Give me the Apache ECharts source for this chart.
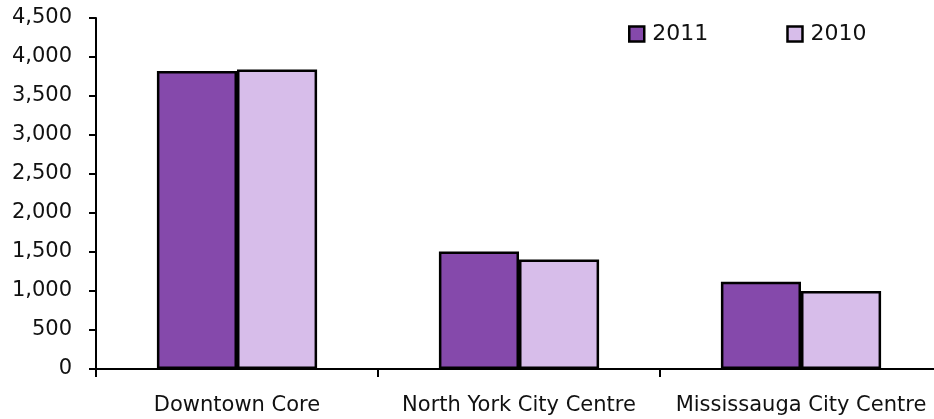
<!DOCTYPE html>
<html>
<head>
<meta charset="utf-8">
<script src="https://cdn.jsdelivr.net/npm/echarts@6/dist/echarts.min.js"></script>
<style>
  html, body { margin: 0; padding: 0; background: #fff; overflow: hidden; }
  /* the plot runs past the right edge in the original, so the canvas is a bit wider than the window */
  #vis { width: 942px; height: 419px; }
</style>
</head>
<body>
<div id="vis"></div>
<script>
const categories = ['Downtown Core', 'North York City Centre', 'Mississauga City Centre'];
const values2011 = [3820, 1505, 1120];
const values2010 = [3840, 1405, 1000];
const yTicks = [0, 500, 1000, 1500, 2000, 2500, 3000, 3500, 4000, 4500];

const font = 'DejaVu Sans';

const chart = echarts.init(document.getElementById('vis'), null, {renderer: 'canvas'});

const options = {
  animation: false,
  textStyle: {fontFamily: font},
  grid: {left: 96, right: 0, top: 18, bottom: 50},
  legend: {
    data: ['2011', '2010'],
    top: 23,
    left: 628,
    padding: 0,
    itemWidth: 15,
    itemHeight: 15,
    itemGap: 78,
    icon: 'rect',
    itemStyle: {borderColor: '#000', borderWidth: 2.5},
    textStyle: {fontFamily: font, fontSize: 22, color: '#111', padding: [0, 0, 0, 3]}
  },
  xAxis: {
    type: 'category',
    data: categories,
    axisLine: {lineStyle: {color: '#000', width: 2}},
    axisTick: {show: true, interval: 0, length: 8, lineStyle: {color: '#000', width: 2}},
    axisLabel: {fontFamily: font, fontSize: 21, color: '#111', margin: 26, interval: 0}
  },
  yAxis: {
    type: 'value',
    min: 0,
    max: yTicks[yTicks.length - 1],
    interval: 500,
    splitLine: {show: false},
    axisLine: {show: true, lineStyle: {color: '#000', width: 2}},
    axisTick: {show: true, length: 7, lineStyle: {color: '#000', width: 2}},
    axisLabel: {
      fontFamily: font, fontSize: 21, color: '#111', margin: 24,
      padding: [2, 0, 0, 0],
      formatter: v => v.toLocaleString('en-US')
    }
  },
  series: [
    {
      name: '2011',
      type: 'bar',
      data: values2011,
      barWidth: '28.4%',
      barGap: '0%',
      itemStyle: {color: '#8549AB', borderColor: '#000', borderWidth: 2.5}
    },
    {
      name: '2010',
      type: 'bar',
      data: values2010,
      barWidth: '28.4%',
      itemStyle: {color: '#D7BDEA', borderColor: '#000', borderWidth: 2.5}
    }
  ]
};

chart.setOption(options);
</script>
</body>
</html>
